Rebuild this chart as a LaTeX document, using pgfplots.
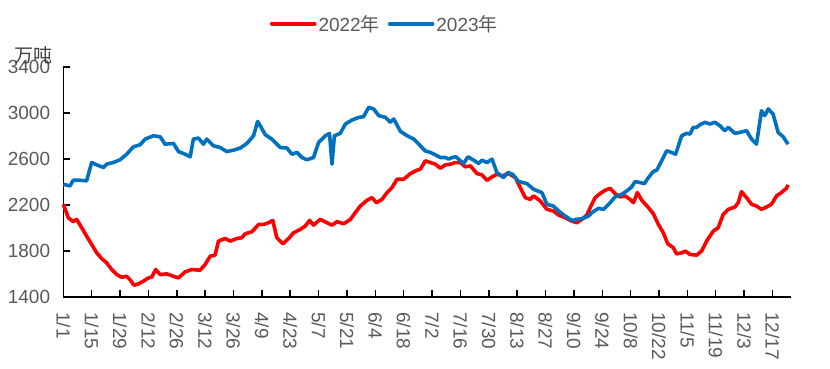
\documentclass[border=0pt]{standalone}
\usepackage{fontspec}
\setmainfont{Liberation Sans}
\newfontfamily\cjk{Noto Sans CJK SC}
\usepackage{pgfplots}
\pgfplotsset{compat=1.18}
\definecolor{cred}{HTML}{FF0000}
\definecolor{cblue}{HTML}{0070C0}
\definecolor{tgray}{HTML}{595959}
\definecolor{dgray}{HTML}{404040}
\newcommand{\bigf}{\fontsize{19bp}{22bp}\selectfont}
\begin{document}
\begin{tikzpicture}
\path[use as bounding box] (-63.3bp,-72bp) rectangle (766.7bp,297bp);
\begin{axis}[
  at={(0,0)}, anchor=south west,
  scale only axis,
  width=727.4bp, height=230bp,
  xmin=0, xmax=359,
  ymin=1400, ymax=3400,
  ytick={1400,1800,2200,2600,3000,3400},
  xtick={0,14,...,350},
  xticklabels={1/1,1/15,1/29,2/12,2/26,3/12,3/26,4/9,4/23,5/7,5/21,6/4,6/18,7/2,7/16,7/30,8/13,8/27,9/10,9/24,10/8,10/22,11/5,11/19,12/3,12/17},
  axis x line=bottom, axis y line=left,
  axis line style={-, line width=1.5bp, black},
  tick align=inside,
  major tick length=7bp,
  tick style={line width=1.5bp, black},
  /pgf/number format/assume math mode=true,
  /pgf/number format/1000 sep={},
  tick label style={font=\bigf, text=tgray, inner sep=0pt},
  yticklabel shift=13bp,
  xticklabel style={rotate=-90, anchor=west},
  xticklabel shift=15bp,
  clip=false,
  legend columns=2,
  legend style={at={(0.442,1.187)}, anchor=center, draw=none, fill=none,
    font=\bigf, text=tgray,
    /tikz/every even column/.append style={column sep=6bp}},
  legend image code/.code={\draw[#1, line cap=round] (0bp,0bp) -- (43bp,0bp);},
]
\addplot[cred, line width=3.6bp, line join=round] coordinates {
(0,2206) (2.5,2089) (4.9,2055) (6.6,2075) (9.1,2002) (11.5,1930) (14,1857) (16.5,1784)
(18.9,1735) (21.4,1697) (23.9,1639) (26.4,1595) (28.8,1572) (31.3,1580) (32.9,1551) (34.9,1502)
(37.1,1514) (39.5,1537) (42,1566) (43.6,1572) (45.6,1639) (47.8,1595) (51.1,1601) (54.4,1580)
(56.8,1566) (60.1,1618) (63.4,1639) (67.5,1633) (70,1683) (72.5,1755) (74.9,1764) (76.6,1886)
(79.9,1909) (82.4,1886) (85.7,1909) (88.1,1915) (89.8,1950) (93.1,1967) (96.4,2031) (98.8,2031)
(101.3,2046) (103.4,2066) (105.4,1915) (108.4,1863) (111.2,1909) (113.7,1959) (117,1988) (119.4,2017)
(121.6,2066) (123.5,2025) (126.8,2075) (130.1,2046) (132.6,2025) (135.1,2055) (138.4,2037) (141.7,2075)
(144.1,2133) (146.6,2191) (149.9,2241) (152.4,2264) (154.5,2220) (157.3,2249) (159.8,2308) (162.2,2351)
(164.7,2424) (168,2424) (171.3,2473) (174.6,2503) (176.2,2511) (178.7,2584) (181.2,2569) (183.6,2555)
(186.1,2520) (188.6,2549) (191,2555) (193.5,2569) (196,2569) (198.4,2532) (200.9,2540) (204.2,2473)
(206.6,2462) (209.1,2415) (211.6,2444) (214,2468) (216.5,2453) (219.8,2473) (223.1,2439) (225.5,2351)
(228,2264) (230.4,2249) (232.1,2279) (235.4,2235) (238.7,2162) (241.9,2148) (244.4,2113) (247.7,2089)
(251,2060) (253.4,2046) (255.9,2075) (258.4,2113) (260.8,2206) (262.5,2264) (264.9,2299) (267.4,2328)
(269.9,2345) (272.3,2299) (274.8,2270) (277.3,2279) (279.7,2249) (281.4,2220) (283.3,2308) (285.5,2241)
(288.8,2177) (291.2,2124) (293.7,2031) (296.1,1959) (298.3,1863) (301.1,1828) (302.7,1775) (305.2,1784)
(307.1,1799) (309.3,1770) (312.6,1764) (315,1799) (317.5,1886) (320.8,1973) (323.2,2002) (325.7,2119)
(328.2,2162) (331.5,2183) (333.1,2220) (334.7,2316) (337.2,2264) (339.7,2206) (342.1,2191) (344.6,2162)
(347.1,2183) (349.5,2206) (352,2279) (354.4,2308) (356.9,2345) (357.7,2375)
};
\addlegendentry{2022{\cjk 年}}
\addplot[cblue, line width=3.6bp, line join=round] coordinates {
(0,2380) (3.3,2366) (4.9,2415) (8.2,2415) (11.5,2410) (14,2570) (16.5,2549) (19.8,2526)
(21.4,2555) (24.7,2570) (28,2593) (31.3,2642) (34.6,2706) (37.9,2724) (40.4,2773) (44.5,2802)
(47.8,2793) (50.2,2729) (54.4,2735) (56.8,2665) (60.1,2642) (62.6,2619) (64.2,2773) (66.7,2782)
(69.2,2729) (70.8,2773) (74.1,2715) (77.4,2700) (80.7,2665) (84,2677) (87.3,2695) (90.6,2735)
(93.9,2802) (95.9,2927) (97.2,2889) (99.7,2811) (102.9,2773) (107.1,2700) (110.4,2695) (112.8,2642)
(115.3,2657) (117.8,2613) (120.2,2593) (123.5,2613) (126,2744) (129.3,2802) (131.4,2823) (132.6,2555)
(133.8,2802) (136.7,2823) (139.2,2904) (142.5,2939) (145.8,2962) (148.2,2968) (150.7,3049) (153.2,3035)
(155.7,2977) (159,2962) (161.4,2919) (163.1,2948) (166.4,2840) (169.7,2802) (173,2773) (176.2,2715)
(178.7,2670) (181.2,2657) (183.6,2636) (186.1,2613) (188.6,2613) (190.2,2599) (191.9,2613) (193.8,2619)
(196,2584) (197.6,2561) (199.7,2619) (202.5,2590) (205,2561) (206.6,2590) (209.1,2569) (211.6,2599)
(214,2482) (217.3,2439) (219.4,2482) (221.7,2468) (224.7,2404) (228.8,2386) (232.1,2337) (236.2,2308)
(238.7,2206) (241.9,2191) (244.4,2148) (247.7,2104) (251,2066) (253.4,2075) (256.7,2084) (259.2,2104)
(260.8,2133) (264.1,2171) (266.6,2162) (269.9,2220) (272.3,2270) (275.6,2293) (278.1,2322) (280.5,2357)
(282.2,2404) (284.6,2395) (286.8,2386) (288.8,2439) (291.2,2491) (292.9,2503) (295.3,2584) (297.8,2671)
(300.2,2657) (302.2,2642) (305.2,2802) (307.6,2823) (309.3,2817) (310.9,2875) (312.6,2875) (314.2,2898)
(316.7,2919) (319.1,2904) (321.6,2919) (324.1,2889) (326.5,2846) (328.2,2875) (331.5,2823) (333.9,2831)
(337.2,2846) (339.7,2773) (342.1,2729) (344.6,3020) (346.2,2977) (347.9,3035) (350.3,2991) (352.8,2831)
(355.3,2793) (357.7,2729)
};
\addlegendentry{2023{\cjk 年}}
\node[font=\bigf\cjk, text=dgray, anchor=center] at (rel axis cs:-0.0403,1.052) {万吨};
\end{axis}
\end{tikzpicture}
\end{document}
